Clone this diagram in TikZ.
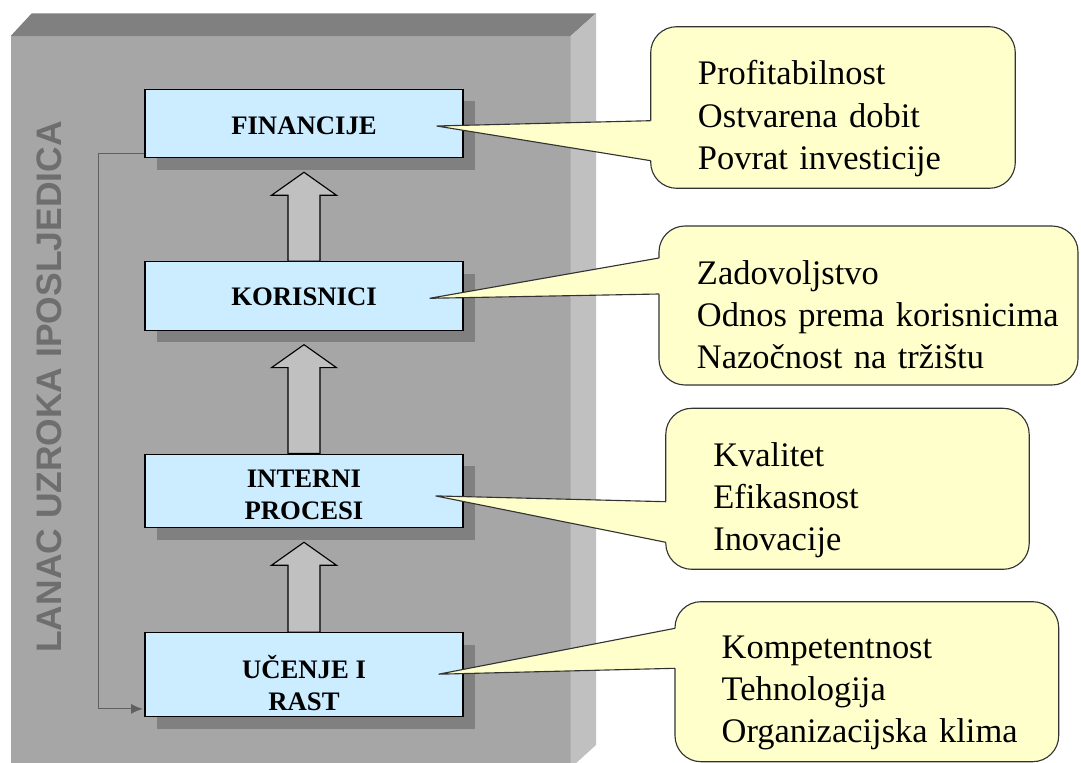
\documentclass[tikz,border=0pt]{standalone}
\usepackage{fontspec}
\setmainfont{Liberation Serif}
\newfontfamily\chainfont{Liberation Sans}
\usetikzlibrary{arrows.meta, calc, shadows}
\definecolor{slabfront}{RGB}{166,166,166}
\definecolor{slabtop}{RGB}{128,128,128}
\definecolor{slabside}{RGB}{192,192,192}
\definecolor{boxblue}{RGB}{204,236,255}
\definecolor{boxshadow}{RGB}{128,128,128}
\definecolor{arrowgray}{RGB}{192,192,192}
\definecolor{calloutyellow}{RGB}{255,255,204}
\definecolor{calloutline}{RGB}{51,51,51}
\definecolor{loopgray}{RGB}{96,96,96}
\definecolor{chaingray}{RGB}{110,110,110}
\tikzset{
  stepbox/.style={draw=black, line width=0.8pt, fill=boxblue, minimum width=7.95cm, inner sep=0pt,
    align=center, font=\bfseries\fontsize{19}{22.8}\selectfont,
    drop shadow={shadow xshift=0.3cm, shadow yshift=-0.3cm, fill=boxshadow, opacity=1}},
  blockarrow/.style={draw=black, line width=0.8pt, fill=arrowgray},
  callout/.style={draw=calloutline, line width=0.8pt, fill=calloutyellow, rounded corners=0.65cm},
  items/.style={text width=10cm, align=left, inner sep=0pt, font=\fontsize{24.5}{29.9}\selectfont},
  feedback/.style={draw=loopgray, line width=0.7pt, -{Latex[length=2.9mm,width=2.5mm]}},
  chain/.style={rotate=90, inner sep=0pt, text=chaingray, font=\chainfont\bfseries\fontsize{25.2}{28}\selectfont}
}
\begin{document}
\begin{tikzpicture}[x=0.025cm, y=-0.025cm]
\useasboundingbox (0,0) rectangle (1081,763);
% slab
\fill[slabfront] (10.7,36) rectangle (570.7,775);
\fill[slabtop] (10.7,36) -- (31.7,13.3) -- (596,13.3) -- (570.7,36) -- cycle;
\fill[slabside] (570.7,36) -- (596,13.3) -- (596,745) -- (570.7,768) -- cycle;
\node[chain] (chain) at (49,387) {LANAC UZROKA IPOSLJEDICA};
% perspectives
\node[stepbox, minimum height=1.71cm] (fin) at (304,123.5) {\rule{0pt}{0.54cm}FINANCIJE};
\node[stepbox, minimum height=1.71cm] (kor) at (304,295.9) {\rule{0pt}{0.49cm}KORISNICI};
\node[stepbox, minimum height=1.84cm] (proc) at (304,490.9) {\rule{0pt}{0.64cm}INTERNI\\PROCESI};
\node[stepbox, minimum height=2.1cm] (uce) at (304,674.7) {\rule{0pt}{1cm}UČENJE I\\RAST};
\foreach \lo/\hi in {kor/fin, proc/kor, uce/proc}
  \draw[blockarrow] ($(\lo.north)+(-16,0)$) -- ($(\hi.south)+(-16,37)$) -- ($(\hi.south)+(-32.5,37)$)
    -- ($(\hi.south)+(0,14)$) -- ($(\hi.south)+(32.5,37)$) -- ($(\hi.south)+(16,37)$) -- ($(\lo.north)+(16,0)$) -- cycle;
\draw[feedback] ($(fin.south west)+(0,-4.4)$) -- ++(-46,0) |- ($(uce.south west)+(-1.7,-8.4)$);
% callouts
\coordinate (finTip) at ($(fin.east)+(-27,2.5)$);
\coordinate (korTip) at ($(kor.east)+(-34,2.4)$);
\coordinate (procTip) at ($(proc.east)+(-28,5)$);
\coordinate (uceTip) at ($(uce.east)+(-25,-0.5)$);
\foreach \xa/\ya/\xb/\yb/\pa/\pb/\tip in {650.7/26.7/1015.3/188.3/120.7/160.7/finTip,
    659/226/1078/385/258/294/korTip, 665.8/408.3/1029.2/569.3/501.7/542.3/procTip,
    675/601.7/1058.7/761.7/628.3/668.3/uceTip}
{
  \draw[callout] (\xa,\ya) rectangle (\xb,\yb);
  \fill[calloutyellow] (\tip) -- (\xa,\pa) -- ({\xa+4},\pa) -- ({\xa+4},\pb) -- (\xa,\pb) -- cycle;
  \draw[calloutline, line width=0.8pt] (\xa,\pa) -- (\tip) -- (\xa,\pb);
}
\node[items, anchor=base west] (finlist) at (697.7,85) {Profitabilnost\\Ostvarena dobit\\Povrat investicije};
\node[items, anchor=base west] (korlist) at (696.7,284) {Zadovoljstvo\\Odnos prema korisnicima\\Nazočnost na tržištu};
\node[items, anchor=base west] (proclist) at (713,466) {Kvalitet\\Efikasnost\\Inovacije};
\node[items, anchor=base west] (ucelist) at (721.4,658.3) {Kompetentnost\\Tehnologija\\Organizacijska klima};
\end{tikzpicture}
\end{document}
